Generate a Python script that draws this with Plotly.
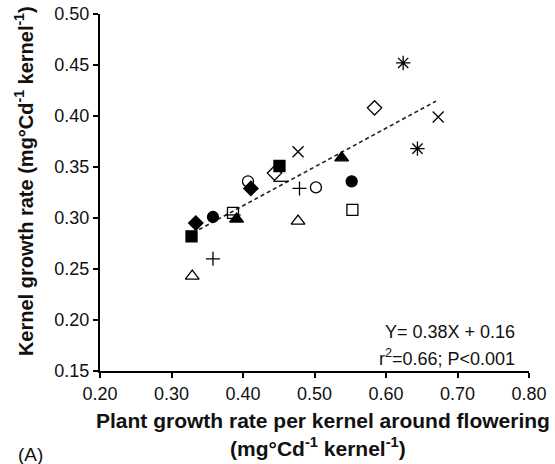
import plotly.graph_objects as go

# Data: (x, y) pairs per marker type
series = {
    "filled_square":   ([0.328, 0.451], [0.282, 0.351]),
    "filled_diamond":  ([0.334, 0.411], [0.295, 0.329]),
    "filled_circle":   ([0.358, 0.552], [0.301, 0.336]),
    "filled_triangle": ([0.391, 0.538], [0.299, 0.359]),
    "open_square":     ([0.386, 0.553], [0.305, 0.308]),
    "open_diamond":    ([0.444, 0.584], [0.344, 0.408]),
    "open_circle":     ([0.407, 0.502], [0.336, 0.330]),
    "open_triangle":   ([0.329, 0.477], [0.243, 0.297]),
    "plus":            ([0.358, 0.479], [0.260, 0.329]),
    "cross":           ([0.477, 0.673], [0.365, 0.399]),
    "asterisk":        ([0.624, 0.644], [0.452, 0.368]),
    "dash":            ([0.386, 0.453], [0.303, 0.336]),
}
symbols = {
    "filled_square": ("square", 11), "filled_diamond": ("diamond", 11),
    "filled_circle": ("circle", 11), "filled_triangle": ("triangle-up", 12),
    "open_square": ("square-open", 11), "open_diamond": ("diamond-open", 11),
    "open_circle": ("circle-open", 11), "open_triangle": ("triangle-up-open", 12),
    "plus": ("cross-thin-open", 10), "cross": ("x-thin-open", 11),
    "asterisk": ("asterisk-open", 12), "dash": ("line-ew-open", 11),
}
fit_x = [0.33, 0.67]
slope, intercept = 0.38, 0.16
fit_y = [slope * v + intercept for v in fit_x]

x_ticks = [0.20, 0.30, 0.40, 0.50, 0.60, 0.70, 0.80]
y_ticks = [0.15, 0.20, 0.25, 0.30, 0.35, 0.40, 0.45, 0.50]

fig = go.Figure()
fig.add_trace(go.Scatter(x=fit_x, y=fit_y, mode="lines",
                         line=dict(color="#222", width=1.6, dash="4px,3px"),
                         showlegend=False))
for name, (xs, ys) in series.items():
    sym, sz = symbols[name]
    fig.add_trace(go.Scatter(x=xs, y=ys, mode="markers", name=name,
                             marker=dict(symbol=sym, size=sz, color="#000",
                                         line=dict(color="#000", width=1.3)),
                             showlegend=False))

font = "Liberation Sans, Arial, sans-serif"
fig.update_layout(
    width=555, height=464,
    margin=dict(l=100, r=26, t=14, b=93),
    paper_bgcolor="white", plot_bgcolor="white",
    font=dict(family=font, size=18, color="#111"),
    xaxis=dict(range=[0.2, 0.8], tickvals=x_ticks, ticktext=[f"{v:.2f}" for v in x_ticks],
               showgrid=False, zeroline=False, showline=True, linecolor="#000", linewidth=2,
               ticks="outside", ticklen=5, tickwidth=2, tickcolor="#000", automargin=False,
               tickfont=dict(size=18)),
    yaxis=dict(range=[0.15, 0.5], tickvals=y_ticks, ticktext=[f"{v:.2f}" for v in y_ticks],
               showgrid=False, zeroline=False, showline=True, linecolor="#000", linewidth=2,
               ticks="outside", ticklen=5, tickwidth=2, tickcolor="#000", automargin=False,
               tickfont=dict(size=18)),
    annotations=[
        dict(text="<b>Kernel growth rate (mg°Cd<sup>-1</sup> kernel<sup>-1</sup>)</b>",
             xref="paper", yref="paper", x=-0.178, y=0.531, textangle=-90,
             showarrow=False, font=dict(size=20, family=font), xanchor="center", yanchor="middle"),
        dict(text="<b>Plant growth rate per kernel around flowering</b>",
             xref="paper", yref="paper", x=0.52, y=-0.14, showarrow=False,
             font=dict(size=21, family=font), xanchor="center", yanchor="middle"),
        dict(text="<b>(mg°Cd<sup>-1</sup> kernel<sup>-1</sup>)</b>",
             xref="paper", yref="paper", x=0.509, y=-0.213, showarrow=False,
             font=dict(size=21, family=font), xanchor="center", yanchor="middle"),
        dict(text="(A)", xref="paper", yref="paper", x=-0.195, y=-0.235, showarrow=False,
             font=dict(size=19, family=font), xanchor="left", yanchor="middle"),
        dict(text="Y= 0.38X + 0.16", xref="paper", yref="paper", x=0.972, y=0.109,
             showarrow=False, font=dict(size=18, family=font), xanchor="right", yanchor="middle"),
        dict(text="r<sup>2</sup>=0.66; P<0.001", xref="paper", yref="paper", x=0.972, y=0.039,
             showarrow=False, font=dict(size=18, family=font), xanchor="right", yanchor="middle"),
    ],
)
fig.write_html("out.html")
